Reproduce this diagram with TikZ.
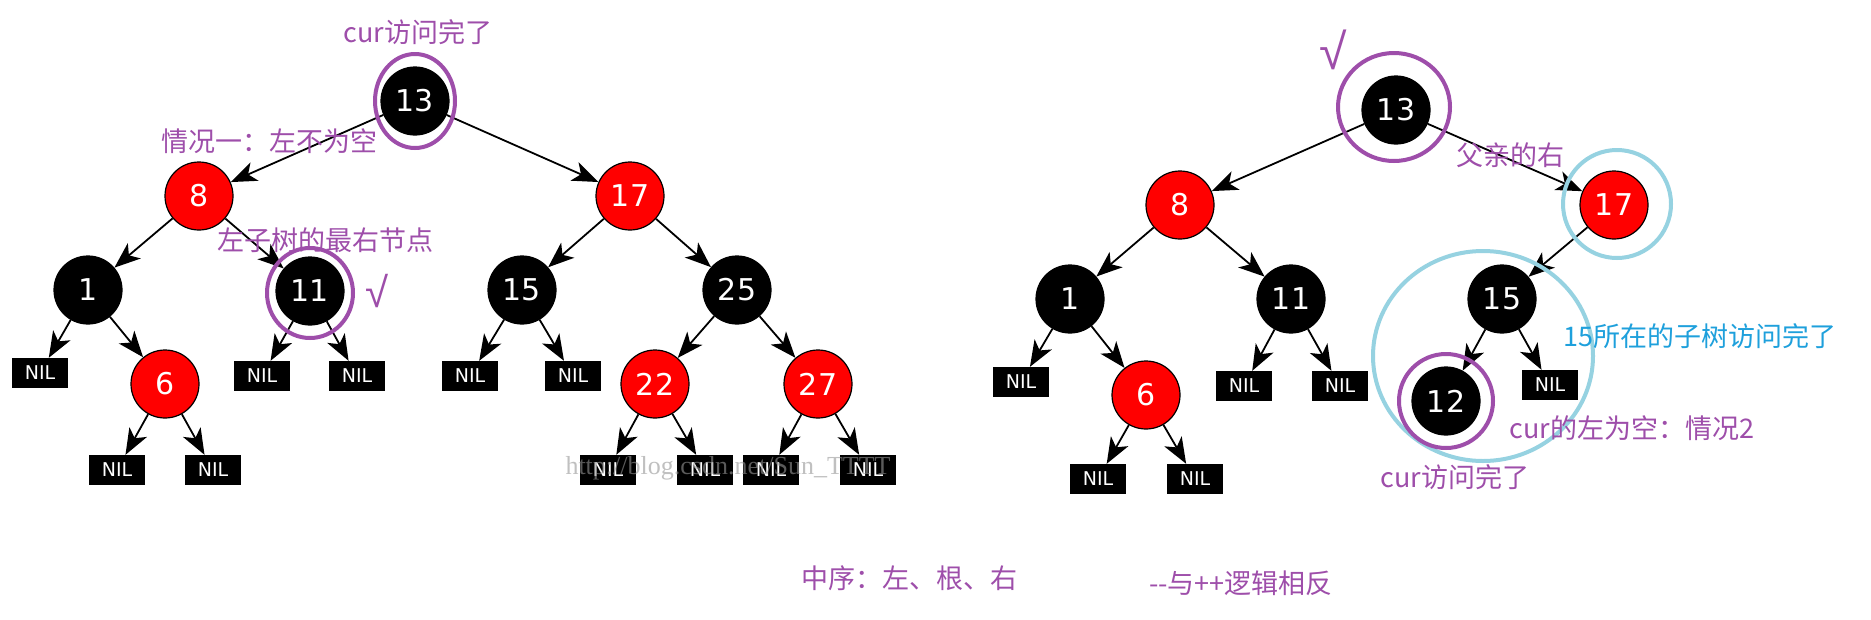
\documentclass[tikz,border=0pt]{standalone}
\usepackage{fontspec}
\newfontfamily\cjk{Noto Sans CJK SC}
\newfontfamily\dv{DejaVu Sans}
\newfontfamily\wm{Liberation Serif}
\newfontfamily\chk{Liberation Sans}
\usetikzlibrary{arrows.meta}
\definecolor{rbred}{RGB}{255,0,0}
\definecolor{annpurple}{RGB}{158,78,170}
\definecolor{ringcyan}{RGB}{150,210,225}
\definecolor{annblue}{RGB}{30,160,220}
\definecolor{wmgray}{RGB}{150,150,150}
\begin{document}
\begin{tikzpicture}[x=1pt,y=-1pt,
  rbnode/.style={circle,draw=black,line width=1.2pt,minimum size=68pt,inner sep=0pt,font=\dv\fontsize{30}{32}\selectfont,text=white},
  blk/.style={rbnode,fill=black},
  rd/.style={rbnode,fill=rbred},
  nil/.style={rectangle,fill=black,minimum width=56pt,minimum height=30pt,inner sep=0pt,text=white,font=\dv\fontsize{19}{21}\selectfont},
  edge/.style={line width=1.8pt,-{Stealth[length=26pt,width=20pt,inset=7pt]}},
  ann/.style={font=\cjk\fontsize{27}{30}\selectfont,text=annpurple,inner sep=0pt},
  annb/.style={ann,text=annblue},
  pring/.style={draw=annpurple,line width=4pt},
  cring/.style={draw=ringcyan,line width=4pt},
]
\useasboundingbox (0,0) rectangle (1871,619);
\fill[white] (0,0) rectangle (1871,619);

% ---------- left tree ----------
\node[blk] (L13) at (415,101) {13};
\node[rd]  (L8)  at (199,196) {8};
\node[rd]  (L17) at (630,196) {17};
\node[blk] (L1)  at (88,290) {1};
\node[blk] (L11) at (310,291) {11};
\node[blk] (L15) at (522,290) {15};
\node[blk] (L25) at (737,290) {25};
\node[nil] (L1a) at (40,373) {NIL};
\node[rd]  (L6)  at (165,384) {6};
\node[nil] (L11a) at (262,376) {NIL};
\node[nil] (L11b) at (357,376) {NIL};
\node[nil] (L15a) at (470,376) {NIL};
\node[nil] (L15b) at (573,376) {NIL};
\node[rd]  (L22) at (655,384) {22};
\node[rd]  (L27) at (818,384) {27};
\node[nil] (L6a) at (117,470) {NIL};
\node[nil] (L6b) at (213,470) {NIL};
\node[nil] (L22a) at (608,470) {NIL};
\node[nil] (L22b) at (705,470) {NIL};
\node[nil] (L27a) at (771,470) {NIL};
\node[nil] (L27b) at (868,470) {NIL};

\foreach \a/\b in {L13/L8,L13/L17,L8/L1,L8/L11,L17/L15,L17/L25,L1/L1a,L1/L6,
  L11/L11a,L11/L11b,L15/L15a,L15/L15b,L25/L22,L25/L27,L6/L6a,L6/L6b,
  L22/L22a,L22/L22b,L27/L27a,L27/L27b}
  \draw[edge] (\a) -- (\b);

% ---------- right tree ----------
\node[blk] (R13) at (1396,110) {13};
\node[rd]  (R8)  at (1180,205) {8};
\node[rd]  (R17) at (1614,205) {17};
\node[blk] (R1)  at (1070,299) {1};
\node[blk] (R11) at (1291,299) {11};
\node[blk] (R15) at (1502,299) {15};
\node[nil] (R1a) at (1021,382) {NIL};
\node[rd]  (R6)  at (1146,395) {6};
\node[nil] (R11a) at (1244,386) {NIL};
\node[nil] (R11b) at (1340,386) {NIL};
\node[blk] (R12) at (1446,401) {12};
\node[nil] (R15b) at (1550,385) {NIL};
\node[nil] (R6a) at (1098,479) {NIL};
\node[nil] (R6b) at (1195,479) {NIL};

\foreach \a/\b in {R13/R8,R13/R17,R8/R1,R8/R11,R17/R15,R1/R1a,R1/R6,
  R11/R11a,R11/R11b,R15/R12,R15/R15b,R6/R6a,R6/R6b}
  \draw[edge] (\a) -- (\b);

% ---------- rings ----------
\draw[pring] (415,101) ellipse [x radius=40pt, y radius=47pt];
\draw[pring] (310,293) ellipse [x radius=43pt, y radius=45pt];
\draw[pring] (1394,107) ellipse [x radius=56pt, y radius=54pt];
\draw[cring] (1617,204) ellipse [x radius=54pt, y radius=54pt];
\draw[cring] (1483,356) ellipse [x radius=110pt, y radius=105pt];
\draw[pring] (1446,401) ellipse [x radius=47pt, y radius=47pt];

% ---------- annotations ----------
\node[ann] (t1) at (418,32) {cur访问完了};
\node[ann] (t2) at (269,141) {情况一：左不为空};
\node[ann] (t3) at (325,240) {左子树的最右节点};
\node[ann,font=\chk\fontsize{42}{44}\selectfont] (t4) at (377,291) {√};
\node[ann,font=\chk\fontsize{50}{52}\selectfont] (t5) at (1333,50) {√};
\node[ann] (t6) at (1510,155) {父亲的右};
\node[annb] (t7) at (1700,336) {15所在的子树访问完了};
\node[ann] (t8) at (1632,428) {cur的左为空：情况2};
\node[ann] (t9) at (1455,477) {cur访问完了};
\node[ann] (t10) at (909,578) {中序：左、根、右};
\node[ann] (t11) at (1241,583) {--与++逻辑相反};

\node[font=\wm\fontsize{26}{28}\selectfont,text=wmgray,text opacity=0.6,inner sep=0pt] (wm) at (728,468) {http://blog.csdn.net/Sun\_TTTT};
\end{tikzpicture}
\end{document}
